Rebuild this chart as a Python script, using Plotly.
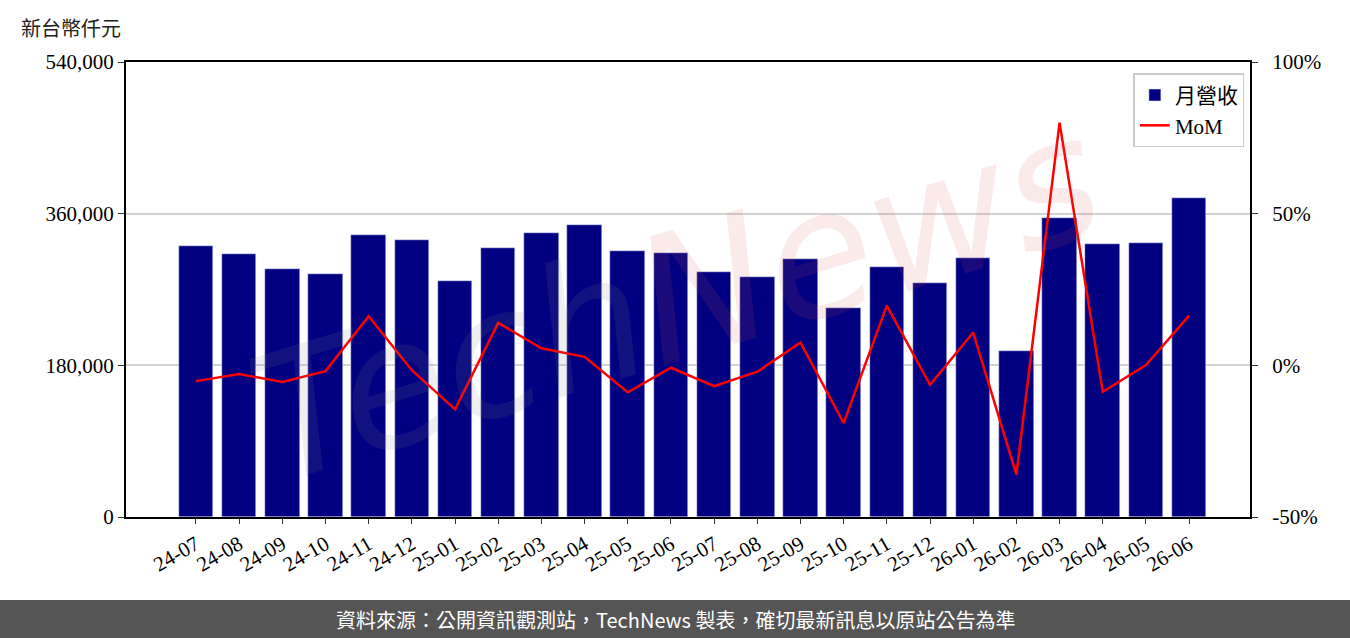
import plotly.graph_objects as go

months = ["24-07","24-08","24-09","24-10","24-11","24-12","25-01","25-02","25-03","25-04","25-05","25-06",
          "25-07","25-08","25-09","25-10","25-11","25-12","26-01","26-02","26-03","26-04","26-05","26-06"]
revenue = [321600, 312100, 294300, 288400, 334700, 328700, 280100, 319200, 337000, 346500, 315700, 313300,
           290800, 284800, 306200, 248000, 296700, 277700, 307400, 197000, 354800, 324000, 325200, 378600]
mom = [-5.2, -2.9, -5.5, -1.9, 16.2, -1.6, -14.5, 14.0, 5.6, 2.8, -8.9, -0.8,
       -6.9, -2.1, 7.5, -19.0, 19.7, -6.4, 10.8, -36.0, 80.0, -8.7, 0.1, 16.4]

y_ticks = [0, 180000, 360000, 540000]
y_ticktext = ["0", "180,000", "360,000", "540,000"]
y2_ticks = [-50, 0, 50, 100]
y2_ticktext = ["-50%", "0%", "50%", "100%"]

idx = list(range(len(months)))
SERIF = "Liberation Serif, 'Noto Sans CJK TC', serif"
CJK = "'Noto Sans CJK TC', sans-serif"
FS = 21

fig = go.Figure()
fig.add_trace(go.Bar(x=idx, y=revenue, name="月營收", marker_color="#000080", width=0.8))
fig.add_trace(go.Scatter(x=idx, y=mom, name="MoM", yaxis="y2", mode="lines",
                         line=dict(color="#FF0000", width=2.5)))

fig.update_layout(
    width=1350, height=638,
    margin=dict(l=126, r=100, t=62, b=121),
    paper_bgcolor="white", plot_bgcolor="white",
    font=dict(family=SERIF, size=FS, color="black"),
    bargap=0,
    xaxis=dict(tickmode="array", tickvals=idx, ticktext=months, tickangle=-30,
               range=[-1.62, 24.41], showgrid=False, zeroline=False,
               showline=True, linecolor="black", linewidth=2, mirror=True,
               ticks="outside", ticklen=5, tickcolor="#333",
               tickfont=dict(family=SERIF, size=FS)),
    yaxis=dict(range=[0, 540000], tickmode="array", tickvals=y_ticks, ticktext=y_ticktext,
               showgrid=True, gridcolor="#D3D3D3", gridwidth=1.5, zeroline=False,
               showline=True, linecolor="black", linewidth=2,
               ticks="outside", ticklen=6, tickcolor="#333",
               tickfont=dict(family=SERIF, size=FS)),
    yaxis2=dict(range=[-50, 100], overlaying="y", side="right", tickmode="array",
                tickvals=y2_ticks, ticktext=y2_ticktext, showgrid=False, zeroline=False,
                showline=True, linecolor="black", linewidth=2,
                ticks="outside", ticklen=6, tickcolor="#333", ticklabelstandoff=10,
                tickfont=dict(family=SERIF, size=FS)),
    legend=dict(x=0.995, y=0.975, xanchor="right", yanchor="top",
                bgcolor="rgba(255,255,255,0.8)", bordercolor="#CCCCCC", borderwidth=1.5,
                font=dict(family=SERIF, size=FS), traceorder="normal"),
    showlegend=True,
)

# watermark
fig.add_annotation(
    text="<i><span style='color:rgba(128,128,128,0.13)'>Tech</span>"
         "<span style='color:rgba(220,80,80,0.12)'>News</span></i>",
    xref="paper", yref="paper", x=0.49, y=0.48, showarrow=False, textangle=-17,
    font=dict(family="DejaVu Sans", size=175))

# y-axis unit title
fig.add_annotation(text="新台幣仟元", xref="paper", yref="paper",
                   x=(19 - 126) / 1124, y=(517 - 27) / 455, xanchor="left", yanchor="middle",
                   showarrow=False, font=dict(family=CJK, size=20, color="#222"))

# footer
fig.add_shape(type="rect", xref="paper", yref="paper",
              x0=-126 / 1124, x1=(1350 - 126) / 1124,
              y0=(517 - 638) / 455, y1=(517 - 600) / 455,
              fillcolor="#555555", line=dict(width=0), layer="above")
fig.add_annotation(text="資料來源：公開資訊觀測站，TechNews 製表，確切最新訊息以原站公告為準",
                   xref="paper", yref="paper", x=(675 - 126) / 1124, y=(517 - 619) / 455,
                   xanchor="center", yanchor="middle", showarrow=False,
                   font=dict(family=CJK, size=20, color="white"))

fig.write_html("out.html")
